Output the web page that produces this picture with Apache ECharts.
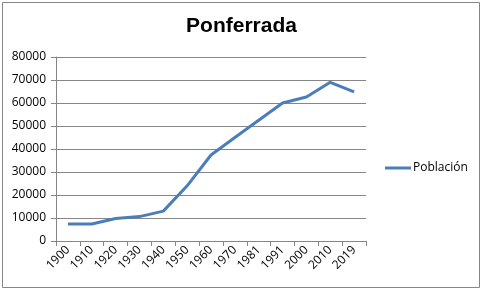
<!DOCTYPE html>
<html><head><meta charset="utf-8">
<script src="https://cdn.jsdelivr.net/npm/echarts@6/dist/echarts.min.js"></script>
<style>html,body{margin:0;padding:0;background:#fff}#c{width:483px;height:291px}</style>
</head><body><div id="c"></div>
<script>
const years = ['1900','1910','1920','1930','1940','1950','1960','1970','1981','1991','2000','2010','2019'];
const poblacion = [7400, 7400, 9800, 10600, 13000, 24000, 37400, 45000, 52500, 60000, 62600, 69000, 64800];
const yTicks = [0, 10000, 20000, 30000, 40000, 50000, 60000, 70000, 80000];
const chart = echarts.init(document.getElementById('c'));
const font = 'Open Sans, Liberation Sans, sans-serif';
chart.setOption({
  animation: false,
  title: { text: 'Ponferrada', left: 'center', top: 11, textStyle: { fontSize: 21, fontWeight: 'bold', color: '#000', fontFamily: 'Liberation Sans, sans-serif' } },
  graphic: [{ type: 'rect', shape: { x: 2.5, y: 2.5, width: 477, height: 285 }, style: { fill: 'none', stroke: '#868686', lineWidth: 1 } }],
  legend: { data: ['Población'], left: 385, top: 157, padding: 0, icon: 'rect', itemWidth: 26, itemHeight: 3, itemGap: 2,
    textStyle: { fontSize: 12, color: '#000', fontFamily: font, padding: [0, 0, 0, -3] } },
  grid: { left: 56, right: 117, top: 57, bottom: 50 },
  xAxis: { type: 'category', data: years, boundaryGap: true,
    axisLine: { lineStyle: { color: '#868686' } },
    axisTick: { show: true, length: 5, lineStyle: { color: '#868686' } },
    axisLabel: { rotate: 45, color: '#000', fontSize: 12, fontFamily: font, margin: 7, interval: 0 } },
  yAxis: { type: 'value', min: yTicks[0], max: yTicks[yTicks.length - 1], interval: 10000,
    axisLine: { show: true, lineStyle: { color: '#868686' } },
    axisTick: { show: true, length: 5, lineStyle: { color: '#868686' } },
    splitLine: { lineStyle: { color: '#868686' } },
    axisLabel: { color: '#000', fontSize: 12, fontFamily: font, margin: 10, formatter: v => String(v) } },
  series: [{ name: 'Población', type: 'line', data: poblacion, symbol: 'none',
    lineStyle: { color: '#4a7ebb', width: 3 }, itemStyle: { color: '#4a7ebb' } }]
});
chart.setOption({ legend: { top: 162 } });
</script></body></html>
